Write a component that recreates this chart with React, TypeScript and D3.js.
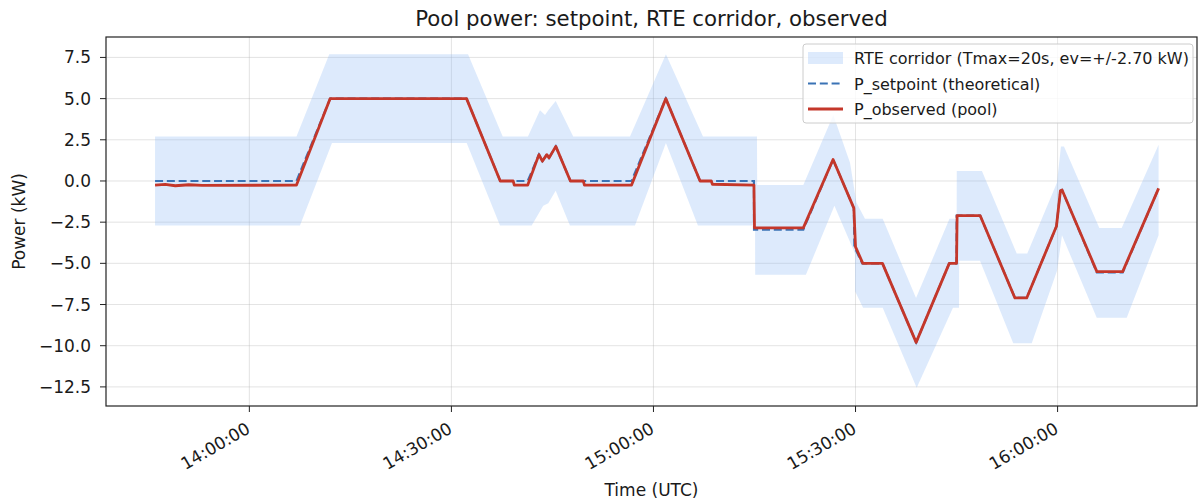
import { useRef, useEffect } from "react";
import * as d3 from "d3";

// setpoint and observed power, [time UTC, kW]
const setpoint: [string, number][] = [
  ["13:46:00", 0], ["14:07:00", 0], ["14:12:00", 5], ["14:32:15", 5],
  ["14:37:15", 0], ["14:41:20", 0], ["14:43:00", 1.6], ["14:43:30", 1.2],
  ["14:44:10", 1.6], ["14:44:30", 1.4], ["14:45:30", 2.1], ["14:47:40", 0],
  ["14:56:45", 0], ["15:01:50", 5], ["15:06:55", 0], ["15:14:55", 0],
  ["15:14:56", -2.95], ["15:22:15", -2.95], ["15:26:40", 1.3], ["15:29:45", -1.65],
  ["15:29:50", -4.0], ["15:31:00", -5.0], ["15:34:00", -5.0], ["15:39:00", -9.8],
  ["15:43:55", -5.0], ["15:45:00", -5.0], ["15:45:01", -2.1], ["15:48:30", -2.1],
  ["15:53:40", -7.1], ["15:55:25", -7.1], ["15:59:50", -2.75], ["16:00:25", -0.6],
  ["16:00:40", -0.55], ["16:05:50", -5.55], ["16:09:40", -5.55], ["16:15:00", -0.45],
];

const observed: [string, number][] = [
  ["13:46:00", -0.25], ["13:47:30", -0.21], ["13:49:00", -0.29], ["13:51:00", -0.23],
  ["13:53:00", -0.27], ["14:07:00", -0.25], ["14:12:00", 5], ["14:32:15", 5],
  ["14:37:15", 0], ["14:39:10", 0], ["14:39:20", -0.25], ["14:41:20", -0.25],
  ["14:43:00", 1.6], ["14:43:30", 1.2], ["14:44:10", 1.6], ["14:44:30", 1.4],
  ["14:45:30", 2.1], ["14:47:40", 0], ["14:49:35", 0], ["14:49:45", -0.25],
  ["14:56:45", -0.25], ["15:01:50", 5], ["15:06:55", 0], ["15:08:35", 0],
  ["15:08:45", -0.2], ["15:14:55", -0.25], ["15:15:00", -2.85], ["15:22:15", -2.85],
  ["15:26:40", 1.3], ["15:29:45", -1.65], ["15:30:00", -4.0], ["15:31:05", -5.0],
  ["15:34:00", -5.0], ["15:39:00", -9.8], ["15:43:55", -5.0], ["15:45:00", -5.0],
  ["15:45:05", -2.1], ["15:48:30", -2.1], ["15:53:40", -7.1], ["15:55:25", -7.1],
  ["15:59:50", -2.75], ["16:00:25", -0.6], ["16:00:40", -0.55], ["16:05:50", -5.5],
  ["16:09:40", -5.5], ["16:15:00", -0.45],
];

// RTE corridor bounds
const corridorUpper: [string, number][] = [
  ["13:46:00", 2.7], ["14:07:00", 2.7], ["14:11:52", 7.7], ["14:32:28", 7.7],
  ["14:37:37", 2.7], ["14:41:22", 2.7], ["14:43:09", 4.3], ["14:43:54", 4.0],
  ["14:44:23", 4.3], ["14:45:29", 4.85], ["14:48:05", 2.7], ["14:56:31", 2.7],
  ["15:01:51", 7.7], ["15:07:21", 2.7], ["15:15:22", 2.7], ["15:15:24", -0.25],
  ["15:22:15", -0.25], ["15:26:42", 4.0], ["15:29:11", 1.1], ["15:30:08", -1.3],
  ["15:31:24", -2.3], ["15:34:02", -2.3], ["15:38:59", -7.1], ["15:43:57", -2.3],
  ["15:45:01", -2.3], ["15:45:02", 0.6], ["15:48:46", 0.6], ["15:53:56", -4.4],
  ["15:55:30", -4.4], ["15:59:55", -0.1], ["16:00:30", 2.1], ["16:00:57", 2.1],
  ["16:06:12", -2.85], ["16:09:31", -2.85], ["16:15:00", 2.2],
];

const corridorLower: [string, number][] = [
  ["13:46:00", -2.7], ["14:07:31", -2.7], ["14:12:16", 2.3], ["14:32:16", 2.3],
  ["14:37:13", -2.7], ["14:41:55", -2.7], ["14:43:38", -1.5], ["14:44:23", -1.35],
  ["14:45:29", -0.6], ["14:47:36", -2.7], ["14:57:15", -2.7], ["15:01:51", 2.3],
  ["15:06:36", -2.7], ["15:15:05", -2.7], ["15:15:06", -5.7], ["15:22:38", -5.7],
  ["15:26:52", -1.5], ["15:29:55", -4.4], ["15:29:56", -6.7], ["15:31:07", -7.7],
  ["15:34:02", -7.7], ["15:39:05", -12.55], ["15:44:28", -7.7], ["15:45:22", -7.7],
  ["15:45:23", -4.85], ["15:48:29", -4.85], ["15:53:25", -9.85], ["15:56:10", -9.85],
  ["15:59:55", -5.45], ["16:00:39", -3.3], ["16:05:49", -8.3], ["16:10:16", -8.3],
  ["16:15:00", -3.3],
];

const yTicks = [-12.5, -10, -7.5, -5, -2.5, 0, 2.5, 5, 7.5];
const xDomain = ["13:38:43", "16:20:42"];
const yDomain = [-13.66, 8.74];

const legendLabels = [
  "RTE corridor (Tmax=20s, ev=+/-2.70 kW)",
  "P_setpoint (theoretical)",
  "P_observed (pool)",
];

const FONT = "DejaVu Sans, sans-serif";
const TEXT = "#1a1a1a";
const BAND = "#8fb8f5";
const BLUE = "#3a73b5";
const RED = "#c4372a";

export default function App() {
  const svgRef = useRef<SVGSVGElement>(null);
  const width = 1201;
  const height = 501;
  const left = 106, right = 1197, top = 37, bottom = 406;

  useEffect(() => {
    if (!svgRef.current) return;
    const svg = d3.select(svgRef.current);
    svg.selectAll("*").remove();

    const parseT = d3.utcParse("%H:%M:%S");
    const x = d3
      .scaleUtc()
      .domain(xDomain.map((s) => parseT(s) as Date))
      .range([left, right]);
    const y = d3.scaleLinear().domain(yDomain).range([bottom, top]);

    const pt = (d: [string, number]): [number, number] => [x(parseT(d[0]) as Date), y(d[1])];

    svg.append("rect").attr("width", width).attr("height", height).attr("fill", "white");

    // grid
    const xTicks = x.ticks(d3.utcMinute.every(30) as any);
    const grid = svg.append("g").attr("stroke", "#b0b0b0").attr("stroke-opacity", 0.4).attr("stroke-width", 0.9);
    xTicks.forEach((t) => {
      grid.append("line").attr("x1", x(t)).attr("x2", x(t)).attr("y1", top).attr("y2", bottom);
    });
    yTicks.forEach((v) => {
      grid.append("line").attr("x1", left).attr("x2", right).attr("y1", y(v)).attr("y2", y(v));
    });

    // corridor band
    const bandPts = corridorUpper.map(pt).concat(corridorLower.map(pt).reverse());
    svg
      .append("path")
      .attr("d", d3.line()(bandPts) + "Z")
      .attr("fill", BAND)
      .attr("fill-opacity", 0.3);

    const line = d3.line();
    svg
      .append("path")
      .attr("d", line(setpoint.map(pt)))
      .attr("fill", "none")
      .attr("stroke", BLUE)
      .attr("stroke-width", 2.2)
      .attr("stroke-dasharray", "8,3.8");

    svg
      .append("path")
      .attr("d", line(observed.map(pt)))
      .attr("fill", "none")
      .attr("stroke", RED)
      .attr("stroke-width", 2.8)
      .attr("stroke-linejoin", "round");

    // spines
    svg
      .append("rect")
      .attr("x", left)
      .attr("y", top)
      .attr("width", right - left)
      .attr("height", bottom - top)
      .attr("fill", "none")
      .attr("stroke", "#222")
      .attr("stroke-width", 1.2);

    // y ticks
    const fmt = d3.format(".1f");
    yTicks.forEach((v) => {
      svg.append("line").attr("x1", left - 6).attr("x2", left).attr("y1", y(v)).attr("y2", y(v)).attr("stroke", "#222");
      svg
        .append("text")
        .attr("x", left - 15)
        .attr("y", y(v) + 6)
        .attr("text-anchor", "end")
        .attr("font-family", FONT)
        .attr("font-size", 17)
        .attr("fill", TEXT)
        .text(fmt(v));
    });

    // x ticks
    const tfmt = d3.utcFormat("%H:%M:%S");
    xTicks.forEach((t) => {
      const px = x(t);
      svg.append("line").attr("x1", px).attr("x2", px).attr("y1", bottom).attr("y2", bottom + 6).attr("stroke", "#222");
      svg
        .append("text")
        .attr("transform", `translate(${px + 2},${bottom + 26}) rotate(-30)`)
        .attr("text-anchor", "end")
        .attr("font-family", FONT)
        .attr("font-size", 17)
        .attr("fill", TEXT)
        .text(tfmt(t));
    });

    // labels
    svg
      .append("text")
      .attr("x", (left + right) / 2)
      .attr("y", 26)
      .attr("text-anchor", "middle")
      .attr("font-family", FONT)
      .attr("font-size", 21.3)
      .attr("fill", TEXT)
      .text("Pool power: setpoint, RTE corridor, observed");
    svg
      .append("text")
      .attr("x", (left + right) / 2)
      .attr("y", 496)
      .attr("text-anchor", "middle")
      .attr("font-family", FONT)
      .attr("font-size", 17)
      .attr("fill", TEXT)
      .text("Time (UTC)");
    svg
      .append("text")
      .attr("transform", `translate(25,${(top + bottom) / 2}) rotate(-90)`)
      .attr("text-anchor", "middle")
      .attr("font-family", FONT)
      .attr("font-size", 17)
      .attr("fill", TEXT)
      .text("Power (kW)");

    // legend
    const lg = svg.append("g");
    lg.append("rect")
      .attr("x", 803)
      .attr("y", 44)
      .attr("width", 390)
      .attr("height", 79)
      .attr("rx", 3)
      .attr("fill", "white")
      .attr("fill-opacity", 0.8)
      .attr("stroke", "#cccccc");
    const rowY = [58, 83.5, 109];
    lg.append("rect").attr("x", 808).attr("y", rowY[0] - 6).attr("width", 35).attr("height", 12).attr("fill", BAND).attr("fill-opacity", 0.3);
    lg.append("line").attr("x1", 808).attr("x2", 843).attr("y1", rowY[1]).attr("y2", rowY[1]).attr("stroke", BLUE).attr("stroke-width", 2.2).attr("stroke-dasharray", "8,3.8");
    lg.append("line").attr("x1", 808).attr("x2", 843).attr("y1", rowY[2]).attr("y2", rowY[2]).attr("stroke", RED).attr("stroke-width", 2.8);
    legendLabels.forEach((s, i) => {
      lg.append("text")
        .attr("x", 854)
        .attr("y", rowY[i] + 6)
        .attr("font-family", FONT)
        .attr("font-size", 16)
        .attr("fill", TEXT)
        .text(s);
    });
  }, []);

  return (
    <svg
      ref={svgRef}
      width={width}
      height={height}
      style={{ position: "absolute", left: 0, top: 0, display: "block" }}
    />
  );
}
